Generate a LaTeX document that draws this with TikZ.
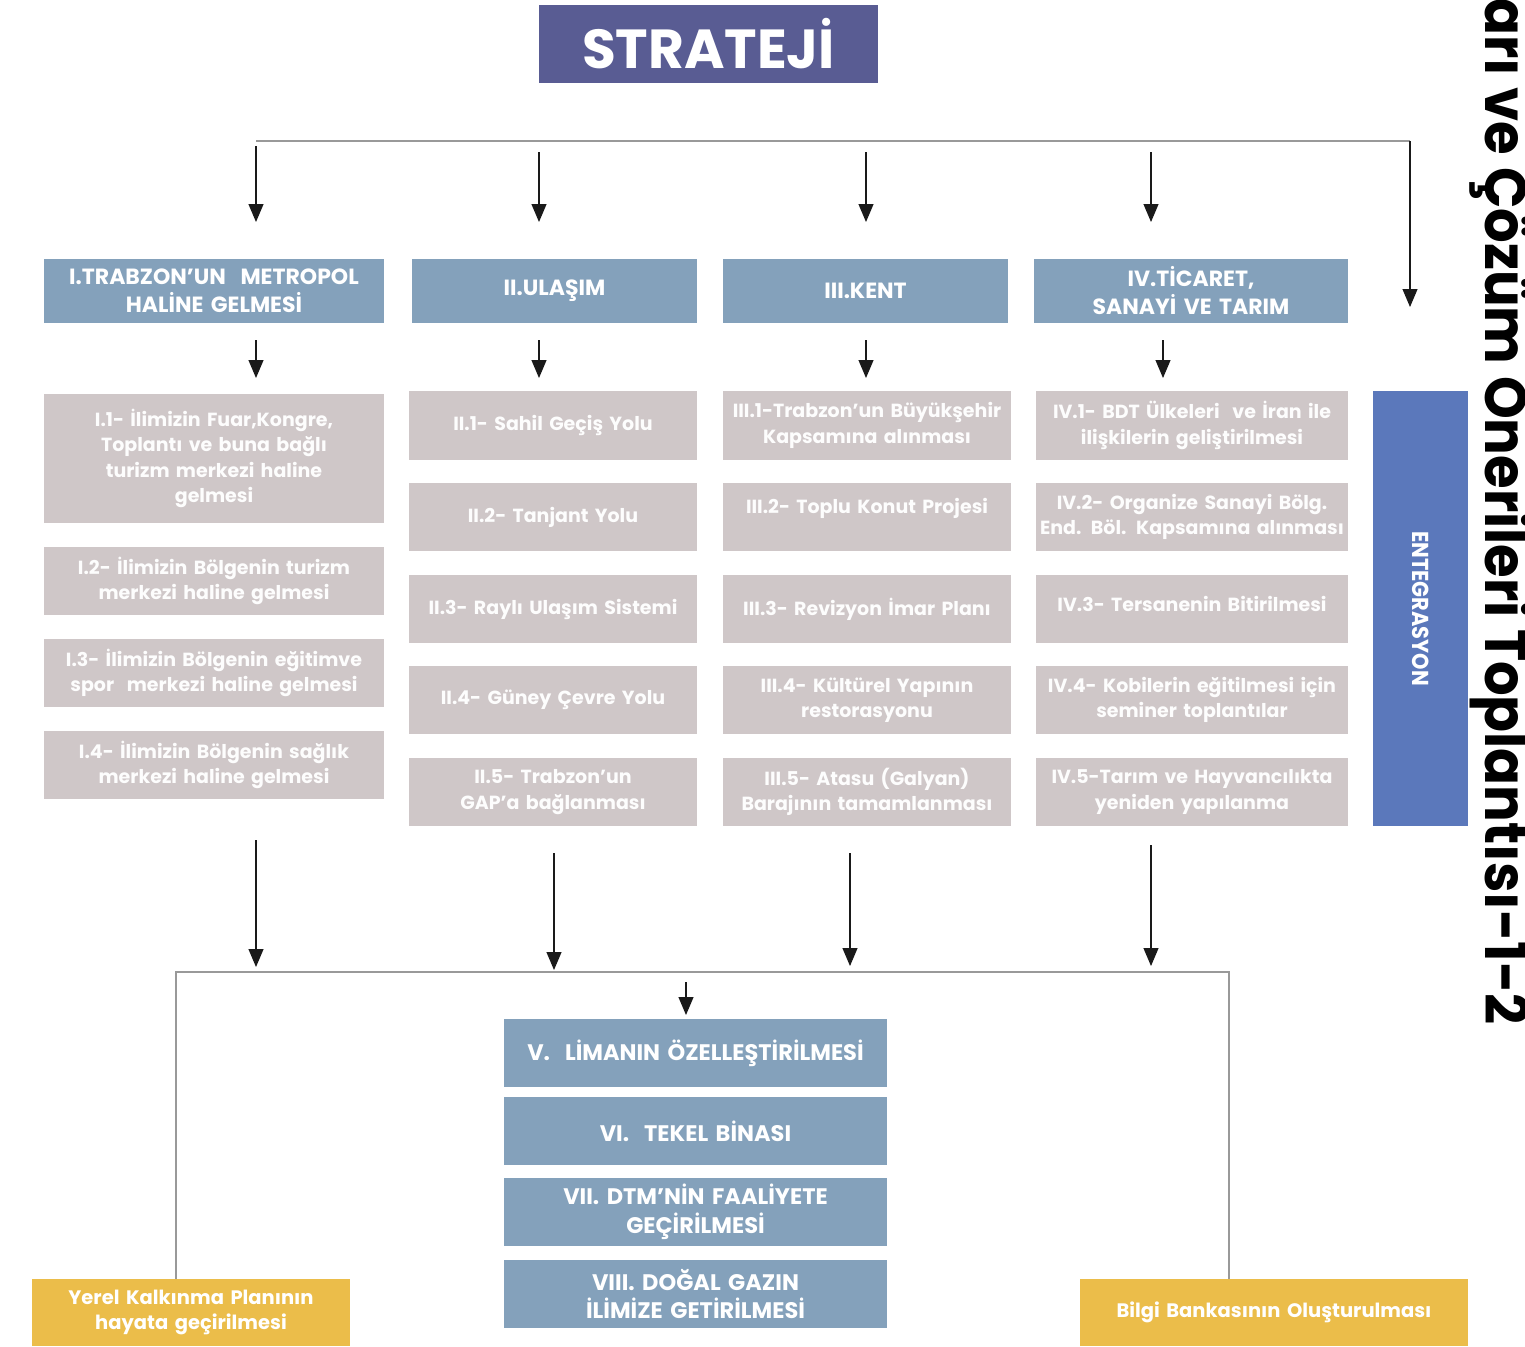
\documentclass[tikz,border=0pt]{standalone}
\usepackage{fontspec}
\setmainfont{Poppins}
\usetikzlibrary{arrows.meta}
\definecolor{cstrat}{HTML}{595C93}
\definecolor{chead}{HTML}{84A1BB}
\definecolor{cgray}{HTML}{CFC7C8}
\definecolor{cinteg}{HTML}{5B78BB}
\definecolor{cyel}{HTML}{EBBD4A}
\definecolor{cline}{HTML}{999999}
\definecolor{carrow}{HTML}{1A1A1A}
\newcommand{\bx}[7]{\node[#6, minimum width={(#4-#2)*1pt}, minimum height={(#5-#3)*1pt}, text width={(#4-#2-8)*1pt}] (#1) at ({(#2+#4)/2},{(#3+#5)/2}) {#7};}
\tikzset{
  base/.style={inner sep=0pt, align=center, text=white, font=\bfseries\fontsize{19}{25.5}\selectfont},
  head/.style={base, fill=chead, font=\bfseries\fontsize{22}{28}\selectfont},
  item/.style={base, fill=cgray, text=white!96!cgray},
  itemtext/.style={base, text=white!96!cgray, text width=280pt},
  big/.style={base, fill=chead, font=\bfseries\fontsize{22.5}{28.5}\selectfont},
  yel/.style={base, fill=cyel, font=\bfseries\fontsize{19.5}{25.5}\selectfont},
  arr/.style={draw=carrow, line width=1.1pt, -{Triangle[width=15pt,length=18pt]}},
  conn/.style={draw=cline, line width=1.6pt},
}
\begin{document}
\begin{tikzpicture}[x=1pt,y=-1pt]
\clip (0,0) rectangle (1525,1346);
\fill[white] (0,0) rectangle (1525,1346);
% title
\bx{strat}{539}{5}{878}{83}{base, fill=cstrat, font=\bfseries\fontsize{55}{60}\selectfont}{STRATEJİ}
% top distribution line
\coordinate (tl) at (256,141);
\coordinate (tr) at (1410,141);
\coordinate (tre) at (1410,307);
\draw[conn] (tl) -- (tr);
\draw[arr] (tr) -- (tre);
\coordinate (a1s) at (256,146); \coordinate (a1e) at (256,222);
\coordinate (a2s) at (539,152); \coordinate (a2e) at (539,222);
\coordinate (a3s) at (866,152); \coordinate (a3e) at (866,222);
\coordinate (a4s) at (1151,152); \coordinate (a4e) at (1151,222);
\draw[arr] (a1s) -- (a1e);
\draw[arr] (a2s) -- (a2e);
\draw[arr] (a3s) -- (a3e);
\draw[arr] (a4s) -- (a4e);
% headers
\bx{h1}{44}{259}{384}{323}{head}{I.TRABZON’UN\ \ METROPOL\\HALİNE GELMESİ}
\bx{h2}{412}{259}{697}{323}{head}{II.ULAŞIM}
\bx{h3}{723}{259}{1008}{323}{head}{III.KENT}
\bx{h4}{1034}{259}{1348}{323}{head}{IV.TİCARET,\\SANAYİ VE TARIM}
% header arrows
\coordinate (b1s) at (256,340); \coordinate (b1e) at (256,378);
\coordinate (b2s) at (539,340); \coordinate (b2e) at (539,378);
\coordinate (b3s) at (866,340); \coordinate (b3e) at (866,378);
\coordinate (b4s) at (1163,340); \coordinate (b4e) at (1163,378);
\draw[arr] (b1s) -- (b1e);
\draw[arr] (b2s) -- (b2e);
\draw[arr] (b3s) -- (b3e);
\draw[arr] (b4s) -- (b4e);
% column I
\bx{i1}{44}{394}{384}{523}{item}{I.1- İlimizin Fuar,Kongre,\\Toplantı ve buna bağlı\\turizm merkezi haline\\gelmesi}
\bx{i2}{44}{547}{384}{615}{item}{I.2- İlimizin Bölgenin turizm\\merkezi haline gelmesi}
\bx{i3}{44}{639}{384}{707}{item}{I.3- İlimizin Bölgenin eğitimve\\spor\ \ merkezi haline gelmesi}
\bx{i4}{44}{731}{384}{799}{item}{I.4- İlimizin Bölgenin sağlık\\merkezi haline gelmesi}
% column II
\bx{ii1}{409}{391}{697}{460}{item}{II.1- Sahil Geçiş Yolu}
\bx{ii2}{409}{483}{697}{551}{item}{II.2- Tanjant Yolu}
\bx{ii3}{409}{575}{697}{643}{item}{II.3- Raylı Ulaşım Sistemi}
\bx{ii4}{409}{666}{697}{734}{item}{II.4- Güney Çevre Yolu}
\bx{ii5}{409}{758}{697}{826}{item}{II.5- Trabzon’un\\GAP’a bağlanması}
% column III
\bx{iii1}{723}{391}{1011}{460}{item}{III.1-Trabzon’un Büyükşehir\\Kapsamına alınması}
\bx{iii2}{723}{483}{1011}{551}{item}{}
\node[itemtext] (iii2t) at ([yshift=9pt]iii2.center) {III.2- Toplu Konut Projesi};
\bx{iii3}{723}{575}{1011}{643}{item}{III.3- Revizyon İmar Planı}
\bx{iii4}{723}{666}{1011}{734}{item}{III.4- Kültürel Yapının\\restorasyonu}
\bx{iii5}{723}{758}{1011}{826}{item}{III.5- Atasu (Galyan)\\Barajının tamamlanması}
% column IV
\bx{iv1}{1036}{391}{1348}{460}{item}{IV.1- BDT Ülkeleri\ \ ve İran ile\\ilişkilerin geliştirilmesi}
\bx{iv2}{1036}{483}{1348}{551}{item}{IV.2- Organize Sanayi Bölg.\\End. Böl. Kapsamına alınması}
\bx{iv3}{1036}{575}{1348}{643}{item}{}
\node[itemtext] (iv3t) at ([yshift=5pt]iv3.center) {IV.3- Tersanenin Bitirilmesi};
\bx{iv4}{1036}{666}{1348}{734}{item}{IV.4- Kobilerin eğitilmesi için\\seminer toplantılar}
\bx{iv5}{1036}{758}{1348}{826}{item}{IV.5-Tarım ve Hayvancılıkta\\yeniden yapılanma}
% integration
\node[fill=cinteg, minimum width=95pt, minimum height=435pt, inner sep=0pt] (integ) at (1420.5,608.5) {};
\node[rotate=-90, text=white, font=\bfseries\fontsize{22}{24}\selectfont, inner sep=0pt] (integt) at (integ.center) {\scalebox{0.95}[1.05]{ENTEGRASYON}};
% lower arrows
\coordinate (c1s) at (256,840); \coordinate (c1e) at (256,967);
\coordinate (c2s) at (554,853); \coordinate (c2e) at (554,970);
\coordinate (c3s) at (850,853); \coordinate (c3e) at (850,966);
\coordinate (c4s) at (1151,845); \coordinate (c4e) at (1151,966);
\draw[arr] (c1s) -- (c1e);
\draw[arr] (c2s) -- (c2e);
\draw[arr] (c3s) -- (c3e);
\draw[arr] (c4s) -- (c4e);
% bottom boxes
\bx{y1}{32}{1279}{350}{1346}{yel}{Yerel Kalkınma Planının\\hayata geçirilmesi}
\bx{y2}{1080}{1279}{1468}{1346}{yel}{Bilgi Bankasının Oluşturulması}
\draw[conn] (y1.north -| 176,0) |- (1229,972) -- (y2.north -| 1229,0);
\coordinate (ds) at (686,982); \coordinate (de) at (686,1015);
\draw[arr] (ds) -- (de);
\bx{v}{504}{1019}{887}{1087}{big}{V.\ \ LİMANIN ÖZELLEŞTİRİLMESİ}
\bx{vi}{504}{1097}{887}{1165}{big}{VI.\ \ TEKEL BİNASI}
\bx{vii}{504}{1178}{887}{1246}{big}{VII. DTM’NİN FAALİYETE\\GEÇİRİLMESİ}
\bx{viii}{504}{1260}{887}{1328}{big}{VIII. DOĞAL GAZIN\\İLİMİZE GETİRİLMESİ}
% vertical title
\node[rotate=-90, anchor=base east, inner sep=0pt, font=\bfseries\fontsize{55}{60}\selectfont] (ttl) at (1485,1025) {\scalebox{0.99}[1.06]{arı ve Çözüm Önerileri Toplantısı-1-2}};
\end{tikzpicture}
\end{document}
